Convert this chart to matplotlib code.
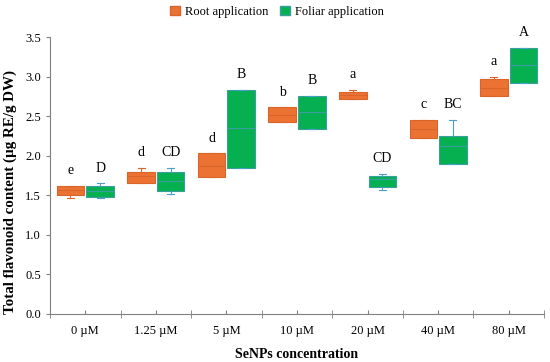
"""Total flavonoid content box chart, root vs foliar SeNPs application."""
import matplotlib
matplotlib.use("Agg")
import matplotlib.pyplot as plt
import matplotlib.patches as mpatches
import numpy as np

plt.rcParams["font.family"] = ["Liberation Serif", "DejaVu Serif"]

categories = ["0 µM", "1.25 µM", "5 µM", "10 µM", "20 µM", "40 µM", "80 µM"]

# root application: whisker low, Q1, median, Q3, whisker high
root_lo = [1.46, 1.65, 1.73, 2.42, 2.72, 2.23, 2.76]
root_q1 = [1.50, 1.66, 1.73, 2.42, 2.72, 2.23, 2.76]
root_med = [1.57, 1.74, 1.87, 2.52, 2.77, 2.34, 2.85]
root_q3 = [1.62, 1.80, 2.03, 2.61, 2.81, 2.45, 2.975]
root_hi = [1.62, 1.85, 2.03, 2.61, 2.83, 2.45, 3.00]
root_letters = ["e", "d", "d", "b", "a", "c", "a"]

# foliar application
fol_lo = [1.46, 1.52, 1.85, 2.34, 1.57, 1.90, 2.92]
fol_q1 = [1.48, 1.555, 1.85, 2.34, 1.61, 1.90, 2.92]
fol_med = [1.55, 1.68, 2.35, 2.55, 1.70, 2.12, 3.15]
fol_q3 = [1.62, 1.80, 2.83, 2.76, 1.75, 2.25, 3.36]
fol_hi = [1.65, 1.85, 2.83, 2.76, 1.77, 2.45, 3.36]
fol_letters = ["D", "CD", "B", "B", "CD", "BC", "A"]

ORANGE, ORANGE_EDGE = "#EB7232", "#D9652A"
GREEN, GREEN_EDGE = "#06B050", "#3A9EA0"
WHISK_GREEN = "#4A9FCF"

fig = plt.figure(figsize=(5.5, 3.62), dpi=100)
ax = fig.add_axes([50 / 550, 48 / 362, 494 / 550, 277 / 362])

x = np.arange(len(categories))
OFF, W = 0.21, 0.39


def draw(lo, q1, med, q3, hi, pos, face, edge, wcol):
    stats = [dict(whislo=a, q1=b, med=c, q3=d, whishi=e, fliers=[])
             for a, b, c, d, e in zip(lo, q1, med, q3, hi)]
    ax.bxp(stats, positions=pos, widths=W, patch_artist=True, showfliers=False,
           manage_ticks=False,
           boxprops=dict(facecolor=face, edgecolor=edge, linewidth=0.8),
           medianprops=dict(color=edge, linewidth=0.8),
           whiskerprops=dict(color=wcol, linewidth=0.8),
           capprops=dict(color=wcol, linewidth=0.8), capwidths=0.1)


draw(root_lo, root_q1, root_med, root_q3, root_hi, x - OFF, ORANGE, ORANGE_EDGE, ORANGE_EDGE)
draw(fol_lo, fol_q1, fol_med, fol_q3, fol_hi, x + OFF, GREEN, GREEN_EDGE, WHISK_GREEN)

for xi, top, lab in zip(x - OFF, root_hi, root_letters):
    ax.annotate(lab, (xi, top), xytext=(0, 11), textcoords="offset points",
                ha="center", va="center", fontsize=10)
for xi, top, lab in zip(x + OFF, fol_hi, fol_letters):
    ax.annotate(lab, (xi, top), xytext=(0, 11), textcoords="offset points",
                ha="center", va="center", fontsize=10)

ax.set_xlim(-0.5, len(categories) - 0.5)
ax.set_ylim(0, 3.5)
ax.set_yticks(np.arange(0, 3.51, 0.5))
ax.set_yticklabels([f"{v:.1f}" for v in np.arange(0, 3.51, 0.5)])
ax.set_xticks(x)
ax.set_xticklabels(categories)
ax.set_xticks(np.arange(-0.5, len(categories)), minor=True)
ax.tick_params(axis="x", which="major", direction="in", length=3, color="#808080",
               labelsize=9, pad=8)
ax.tick_params(axis="x", which="minor", direction="inout", length=6, color="#808080")
ax.tick_params(axis="y", direction="out", length=3, color="#808080", labelsize=9)

for side in ("top", "right"):
    ax.spines[side].set_visible(False)
for side in ("left", "bottom"):
    ax.spines[side].set_color("#808080")
    ax.spines[side].set_linewidth(0.8)

ax.set_xlabel("SeNPs concentration", fontsize=10, fontweight="bold", labelpad=8)
ax.set_ylabel("Total flavonoid content (µg RE/g DW)", fontsize=10.8,
              fontweight="bold", labelpad=6)
ax.yaxis.label.set_y(0.44)

handles = [mpatches.Patch(facecolor=ORANGE, edgecolor=ORANGE_EDGE, label="Root application"),
           mpatches.Patch(facecolor=GREEN, edgecolor=GREEN_EDGE, label="Foliar application")]
fig.legend(handles=handles, loc="center", bbox_to_anchor=(0.503, 0.968), ncol=2,
           frameon=False, fontsize=9, handlelength=0.8, handleheight=0.8,
           handletextpad=0.4, columnspacing=0.9)

fig.savefig("out.png", dpi=100, facecolor="white")
